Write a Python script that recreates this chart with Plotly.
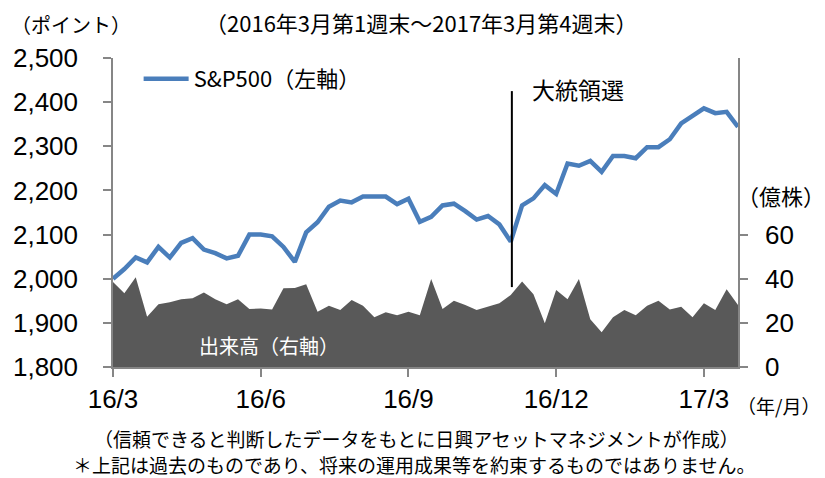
import plotly.graph_objects as go

# Weekly data: 2016 March week 1 to 2017 March week 4 (56 weeks)
week_index = list(range(56))
sp500 = [2000, 2022, 2048, 2037, 2072, 2048, 2081, 2092, 2066, 2058,
         2046, 2052, 2100, 2100, 2096, 2072, 2038, 2105, 2128, 2163,
         2177, 2173, 2186, 2186, 2186, 2169, 2181, 2129, 2140, 2166,
         2170, 2153, 2134, 2142, 2123, 2084, 2166, 2182, 2212, 2192,
         2261, 2256, 2267, 2242, 2278, 2278, 2273, 2298, 2298, 2316,
         2352, 2369, 2386, 2375, 2378, 2344]
volume = [38.5, 33.4, 40.7, 22.8, 28.4, 29.3, 30.7, 31.1, 33.7, 30.7,
          28.4, 30.7, 26.3, 26.5, 26.1, 35.7, 35.8, 37.5, 25.0, 27.8,
          25.8, 30.4, 27.8, 22.5, 24.8, 23.5, 25.0, 23.5, 39.9, 26.3,
          30.0, 28.1, 25.8, 27.2, 28.9, 32.6, 38.7, 33.0, 19.8, 34.9,
          30.7, 39.9, 21.6, 15.7, 22.5, 25.8, 23.5, 27.8, 30.0, 26.1,
          27.3, 22.5, 28.9, 25.8, 35.2, 28.1]
tick_positions = [0, 13, 26, 39, 52]
tick_labels = ["16/3", "16/6", "16/9", "16/12", "17/3"]
election_week = 35.1
left_ticks = [1800, 1900, 2000, 2100, 2200, 2300, 2400, 2500]
right_ticks = [0, 20, 40, 60]

JP = "Noto Sans CJK JP"
NUM = "Liberation Sans, Arial"
AXIS_GRAY = "#868686"

fig = go.Figure()
fig.add_trace(go.Scatter(
    x=week_index, y=volume, yaxis="y", mode="lines",
    line=dict(width=0, color="#595959"), fill="tozeroy",
    fillcolor="#595959", showlegend=False, hoverinfo="skip"))
fig.add_trace(go.Scatter(
    x=week_index, y=sp500, yaxis="y2", mode="lines",
    name="S&P500（左軸）", line=dict(width=4.5, color="#4A7EBB"),
    showlegend=True))

fig.update_layout(
    width=825, height=478,
    margin=dict(l=113, r=87, t=58, b=111),
    paper_bgcolor="white", plot_bgcolor="white",
    xaxis=dict(range=[0, 55], tickvals=tick_positions, ticktext=tick_labels,
               showgrid=False, zeroline=False, showline=True,
               linecolor=AXIS_GRAY, linewidth=1.5, ticks="outside",
               ticklen=8, tickcolor=AXIS_GRAY, tickwidth=1.5,
               tickfont=dict(family=NUM, size=26, color="black")),
    yaxis=dict(range=[0, 140], tickvals=right_ticks, side="right",
               showgrid=False, zeroline=False, showline=True,
               linecolor=AXIS_GRAY, linewidth=1.5, ticks="outside",
               ticklen=8, tickcolor=AXIS_GRAY, tickwidth=1.5,
               ticklabelstandoff=12,
               tickfont=dict(family=NUM, size=26, color="black")),
    yaxis2=dict(range=[1800, 2500], tickvals=left_ticks, tickformat=",",
                side="left", overlaying="y",
                showgrid=False, zeroline=False, showline=True,
                linecolor=AXIS_GRAY, linewidth=1.5, ticks="outside",
                ticklen=8, tickcolor=AXIS_GRAY, tickwidth=1.5,
                ticklabelstandoff=20,
                tickfont=dict(family=NUM, size=26, color="black")),
    legend=dict(x=0.041, y=1.0, xanchor="left", yanchor="top",
                bgcolor="rgba(0,0,0,0)", itemwidth=45,
                font=dict(family=JP, size=22, color="black")),
)

fig.add_shape(type="line", xref="x", yref="y2",
              x0=election_week, x1=election_week, y0=1981, y1=2425,
              line=dict(color="black", width=2))

ann = [
    dict(text="（ポイント）", x=-0.067, y=1.107, xref="paper", yref="paper",
         font=dict(family=JP, size=20)),
    dict(text="（2016年3月第1週末～2017年3月第4週末）", x=0.493, y=1.117,
         xref="paper", yref="paper", font=dict(family=JP, size=22)),
    dict(text="（億株）", x=1.069, y=0.557, xref="paper", yref="paper",
         font=dict(family=JP, size=22)),
    dict(text="（年/月）", x=1.064, y=-0.123, xref="paper", yref="paper",
         font=dict(family=JP, size=19)),
    dict(text="大統領選", x=36.7, y=2430, xref="x", yref="y2", xanchor="left",
         font=dict(family=JP, size=23)),
    dict(text="出来高（右軸）", x=13.7, y=0.071, xref="x", yref="paper",
         font=dict(family=JP, size=20, color="white")),
    dict(text="（信頼できると判断したデータをもとに日興アセットマネジメントが作成）",
         x=0.486, y=-0.233, xref="paper", yref="paper",
         font=dict(family=JP, size=19)),
    dict(text="＊上記は過去のものであり、将来の運用成果等を約束するものではありません。",
         x=0.481, y=-0.315, xref="paper", yref="paper",
         font=dict(family=JP, size=19)),
]
for a in ann:
    a.setdefault("showarrow", False)
    a.setdefault("xanchor", "center")
    a.setdefault("yanchor", "middle")
    a["font"].setdefault("color", "black")
    fig.add_annotation(**a)

fig.write_html("out.html", config={"displayModeBar": False},
               post_script="document.body.style.margin='0';")
